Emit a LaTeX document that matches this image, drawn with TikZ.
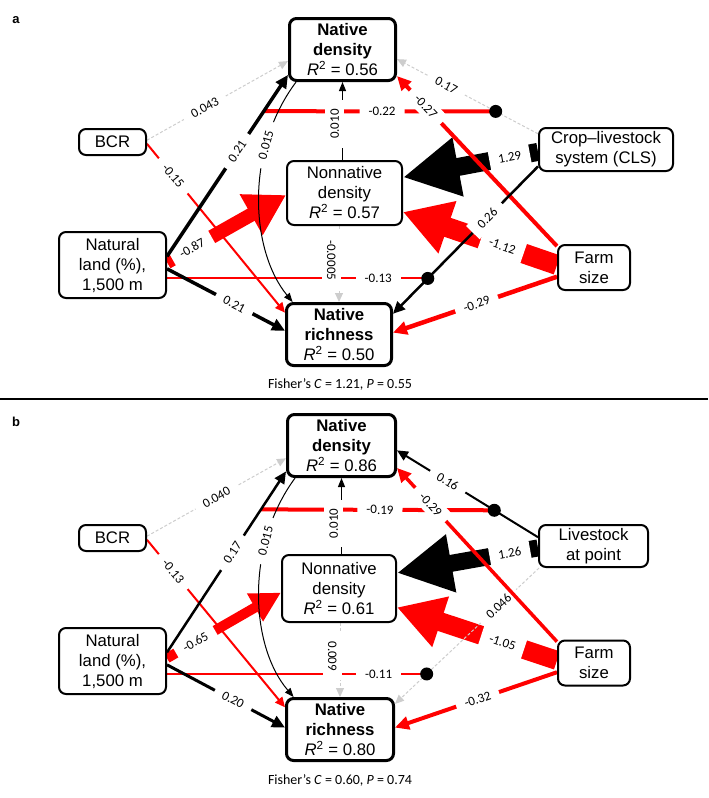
\documentclass[tikz,border=0pt]{standalone}
\usepackage{fontspec}
\setmainfont{Liberation Sans}
\newfontfamily\calib{Carlito}
\usepackage{tikz}
\definecolor{pred}{RGB}{255, 0, 0}
\definecolor{lgray}{RGB}{205, 205, 205}
\usetikzlibrary{arrows.meta}
\pgfdeclarelayer{edgelayer}
\pgfsetlayers{edgelayer,main}
\tikzstyle{var}=[draw=black,line width=2pt,rounded corners=7pt,fill=white,align=center,inner sep=0pt,font=\fontsize{16.75}{20}\selectfont]
\tikzstyle{resp}=[var,line width=3pt]
\tikzstyle{lbl}=[fill=white,text=black,sloped,inner xsep=9pt,inner ysep=5pt,font=\calib\fontsize{13}{13}\selectfont]
\tikzstyle{flbl}=[lbl,inner ysep=9pt]
\tikzstyle{dotn}=[circle,fill=black,inner sep=0pt,minimum size=13pt]
\tikzstyle{nsl}=[draw=lgray,line width=1pt,dash pattern=on 3pt off 2pt,-{Triangle[length=9pt,width=8pt]}]
\tikzstyle{fish}=[font=\calib\fontsize{14}{14}\selectfont]

\begin{document}
\begin{tikzpicture}[x=1pt,y=-1pt]
    \useasboundingbox (0,0) rectangle (709,798);

    % panel a
    \node [font=\bfseries\fontsize{13}{13}\selectfont] (pa) at (16,20) {a};
    \node [style = resp, minimum width=106pt, minimum height=62pt] (ndA) at (342.5,49.5) {\textbf{Native}\\\textbf{density}\\\textit{R}\textsuperscript{2} = 0.56};
    \node [style = var, minimum width=115pt, minimum height=64pt] (nnA) at (344.5,193) {Nonnative\\density\\\textit{R}\textsuperscript{2} = 0.57};
    \node [style = resp, minimum width=105pt, minimum height=62pt] (nrA) at (339,334.5) {\textbf{Native}\\\textbf{richness}\\\textit{R}\textsuperscript{2} = 0.50};
    \node [style = var, minimum width=67pt, minimum height=26pt] (bcrA) at (112.5,142) {BCR};
    \node [style = var, minimum width=107pt, minimum height=66pt] (nlA) at (112.5,265) {Natural\\land (\%),\\1,500 m};
    \node [style = var, minimum width=134pt, minimum height=43pt] (clsA) at (606,149.5) {Crop–livestock\\system (CLS)};
    \node [style = var, minimum width=72pt, minimum height=45pt] (fsA) at (594,267.5) {Farm\\size};
    \node [style = fish] (fcA) at (340,384) {Fisher’s \textit{C} = 1.21, \textit{P} = 0.55};

    \path (nlA.9) -- (ndA.205) coordinate[pos=0.8] (ilA);
    \path (clsA.167) -- (ndA.-10) coordinate[pos=0.3] (dtA1);
    \path (clsA.194) -- (nrA.21) coordinate[pos=0.76] (dtA2);

    \begin{pgfonlayer}{edgelayer}
        \draw [pred, line width=4pt] (ilA) to node[lbl,pos=0.51] {-0.22} (dtA1);
        \draw [pred, line width=2pt] (nlA.east |- dtA2) to node[lbl,pos=0.81] {-0.13} (dtA2);
        \draw [pred, line width=14pt, -{Triangle[length=40pt,width=44pt]}] (nlA.3) to node[flbl,pos=0.21] {-0.87} (nnA.182);
        \draw [pred, line width=20pt, -{Triangle[length=47pt,width=52pt]}] (fsA.176) to node[flbl,pos=0.355] {-1.12} (nnA.-18);
        \draw [black, line width=18pt, -{Triangle[length=56pt,width=56pt]}] (clsA.182) to node[flbl,pos=0.21] {1.29} (nnA.15);
        \draw [nsl] (bcrA.3) to node[lbl,pos=0.41] {0.043} (ndA.192);
        \draw [nsl] (clsA.167) to node[lbl,pos=0.65] {0.17} (ndA.-10);
        \draw [nsl] (nrA.north |- nnA.south) to node[lbl,pos=0.45,below=-2pt] {-0.0005} (nrA.north);
        \draw [pred, line width=2pt, -{Triangle[length=10pt,width=9pt]}] (bcrA.-3) to node[lbl,pos=0.19] {-0.15} (nrA.158);
        \draw [line width=3.5pt, -{Triangle[length=13pt,width=12pt]}] (nlA.9) to node[lbl,pos=0.58] {0.21} (ndA.205);
        \draw [line width=3.5pt, -{Triangle[length=13pt,width=12pt]}] (nlA.-4) to node[lbl,pos=0.57] {0.21} (nrA.176);
        \draw [line width=1pt, -{Triangle[length=9pt,width=7pt]}] (ndA.south |- nnA.north) to node[lbl,pos=0.46,above=-2pt] {0.010} (ndA.south);
        \draw [line width=1pt, -{Triangle[length=9pt,width=7pt]}] (ndA.215) .. controls (245,150) and (250,250) .. node[lbl,pos=0.28] {0.015} (nrA.145);
        \draw [pred, line width=4pt, -{Triangle[length=14pt,width=13pt]}] (fsA.150) to node[lbl,pos=0.82] {-0.27} (ndA.-26);
        \draw [line width=2.5pt, -{Triangle[length=12pt,width=11pt]}] (clsA.194) to node[lbl,pos=0.35] {0.26} (nrA.21);
        \draw [pred, line width=4.5pt, -{Triangle[length=14pt,width=13pt]}] (fsA.194) to node[lbl,pos=0.49] {-0.29} (nrA.2);
    \end{pgfonlayer}
    \node [style = dotn] (dA1) at (dtA1) {};
    \node [style = dotn] (dA2) at (dtA2) {};

    \draw [line width=1.5pt] (0,399) -- (708,399);

    % panel b
    \begin{scope}[shift={(0,396)}]
        \node [font=\bfseries\fontsize{13}{13}\selectfont] (pb) at (16,26) {b};
        \node [style = resp, minimum width=108pt, minimum height=62pt] (ndB) at (341.5,49.5) {\textbf{Native}\\\textbf{density}\\\textit{R}\textsuperscript{2} = 0.86};
        \node [style = var, minimum width=114pt, minimum height=67pt] (nnB) at (339,192.5) {Nonnative\\density\\\textit{R}\textsuperscript{2} = 0.61};
        \node [style = resp, minimum width=107pt, minimum height=62pt] (nrB) at (340,333.5) {\textbf{Native}\\\textbf{richness}\\\textit{R}\textsuperscript{2} = 0.80};
        \node [style = var, minimum width=67pt, minimum height=26pt] (bcrB) at (112.5,142) {BCR};
        \node [style = var, minimum width=107pt, minimum height=66pt] (nlB) at (112.5,265) {Natural\\land (\%),\\1,500 m};
        \node [style = var, minimum width=109pt, minimum height=42pt] (lspB) at (593.5,150) {Livestock\\at point};
        \node [style = var, minimum width=72pt, minimum height=45pt] (fsB) at (594,267) {Farm\\size};
        \node [style = fish] (fcB) at (340,384) {Fisher’s \textit{C} = 0.60, \textit{P} = 0.74};

        \path (nlB.9) -- (ndB.205) coordinate[pos=0.79] (ilB);
        \path (lspB.171) -- (ndB.-5) coordinate[pos=0.31] (dtB1);
        \path (lspB.202) -- (nrB.25) coordinate[pos=0.78] (dtB2);

        \begin{pgfonlayer}{edgelayer}
            \draw [pred, line width=4pt] (ilB) to node[lbl,pos=0.51] {-0.19} (dtB1);
            \draw [pred, line width=2.5pt] (nlB.east |- dtB2) to node[lbl,pos=0.815] {-0.11} (dtB2);
            \draw [pred, line width=10pt, -{Triangle[length=30pt,width=30pt]}] (nlB.3) to node[flbl,pos=0.25] {-0.65} (nnB.184);
            \draw [pred, line width=19pt, -{Triangle[length=46pt,width=50pt]}] (fsB.176) to node[flbl,pos=0.34] {-1.05} (nnB.-18);
            \draw [black, line width=17pt, -{Triangle[length=55pt,width=55pt]}] (lspB.182) to node[flbl,pos=0.2] {1.26} (nnB.15);
            \draw [nsl] (bcrB.3) to node[lbl,pos=0.5] {0.040} (ndB.193);
            \draw [nsl] (nrB.north |- nnB.south) to node[lbl,pos=0.45,below=-2pt] {0.009} (nrB.north);
            \draw [nsl] (lspB.202) to node[lbl,pos=0.28] {0.046} (nrB.25);
            \draw [pred, line width=2pt, -{Triangle[length=10pt,width=9pt]}] (bcrB.-3) to node[lbl,pos=0.19] {-0.13} (nrB.158);
            \draw [line width=2.5pt, -{Triangle[length=12pt,width=11pt]}] (nlB.9) to node[lbl,pos=0.55] {0.17} (ndB.205);
            \draw [line width=3pt, -{Triangle[length=13pt,width=12pt]}] (nlB.-4) to node[lbl,pos=0.56] {0.20} (nrB.178);
            \draw [line width=1pt, -{Triangle[length=9pt,width=7pt]}] (ndB.south |- nnB.north) to node[lbl,pos=0.4,above=-2pt] {0.010} (ndB.south);
            \draw [line width=1pt, -{Triangle[length=9pt,width=7pt]}] (ndB.215) .. controls (245,150) and (250,250) .. node[lbl,pos=0.28] {0.015} (nrB.145);
            \draw [line width=2pt, -{Triangle[length=11pt,width=10pt]}] (lspB.171) to node[lbl,pos=0.64] {0.16} (ndB.-5);
            \draw [pred, line width=3.5pt, -{Triangle[length=14pt,width=13pt]}] (fsB.150) to node[lbl,pos=0.79] {-0.29} (ndB.-22);
            \draw [pred, line width=4pt, -{Triangle[length=14pt,width=13pt]}] (fsB.194) to node[lbl,pos=0.49] {-0.32} (nrB.2);
        \end{pgfonlayer}
        \node [style = dotn] (dB1) at (dtB1) {};
        \node [style = dotn] (dB2) at (dtB2) {};
    \end{scope}
\end{tikzpicture}
\end{document}
